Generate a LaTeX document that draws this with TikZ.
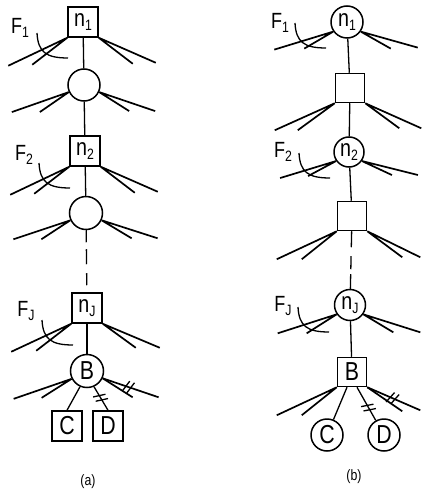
\documentclass[tikz,border=0pt]{standalone}
\usepackage{fontspec}
\setmainfont{Liberation Sans}[FakeStretch=0.82]
\usetikzlibrary{decorations.markings,calc}

% letter with a lowered subscript
\newcommand\nsub[2]{#1\raisebox{-3.5pt}{\fontsize{15}{15}\selectfont #2}}
\newcommand\bigletter[1]{{\fontsize{26}{26}\selectfont #1}}
% a pair of branch lines from one anchor: outer and inner offsets
\newcommand\fanpair[3]{\draw[fanline] (#1) -- ++#2 (#1) -- ++#3;}
% the curved stroke next to an F label
\newcommand\farc[2]{\draw[fanline, line width=1.3pt] (#1,#2) .. controls ({#1+1},{#2+19}) and ({#1+9},{#2+25}) .. ({#1+31},{#2+25});}

\begin{document}
\begin{tikzpicture}[x=1pt,y=-1pt,
  every node/.style={font=\fontsize{24}{24}\selectfont},
  sq/.style={draw, line width=1.5pt, minimum size=30pt, inner sep=0pt},
  cir/.style={draw, circle, line width=1.5pt, minimum size=32pt, inner sep=0pt},
  fanline/.style={line width=1.7pt},
  link/.style={line width=1.3pt},
  flab/.style={font=\fontsize{22}{22}\selectfont, inner sep=0pt},
  caption/.style={font=\fontsize{15}{15}\selectfont},
  dbltick/.style={postaction={decorate}, decoration={markings,
    mark=at position #1 with {\draw[line width=1.3pt] (-4pt,-6pt)--(0pt,6pt) (1pt,-6pt)--(5pt,6pt);}}}
]
\useasboundingbox (0,0) rectangle (421,492);

% ---------------- (a) ----------------
\node[sq] (n1a) at (83,22) {\nsub{n}{1}};
\node[cir] (c1a) at (84,85) {};
\node[sq] (n2a) at (85,151) {\nsub{n}{2}};
\node[cir, minimum size=33pt] (c2a) at (86,213) {};
\node[sq] (nJa) at (87,308) {\nsub{n}{J}};
\node[cir, minimum size=33pt] (Ba) at (87,371) {\bigletter{B}};
\node[sq] (Ca) at (67,426) {\bigletter{C}};
\node[sq] (Da) at (108,426) {\bigletter{D}};

\draw[link] (n1a) -- (c1a);
\draw[link] (c1a) -- (n2a);
\draw[link] (n2a) -- (c2a);
\draw[link, dash pattern=on 12pt off 7pt on 15pt off 9pt] (c2a) -- (nJa);
\draw[link] (nJa) -- (Ba);
\draw[link] (Ba.246) -- (Ca.north);
\draw[link, dbltick=0.45] (Ba.294) -- (Da.north);

\fanpair{n1a.south west}{(-59,28)}{(-35,27)}
\fanpair{n1a.south east}{(57,25)}{(34,26)}
\fanpair{c1a.205}{(-57,20)}{(-29,20)}
\fanpair{c1a.335}{(56,19)}{(30,19)}
\fanpair{n2a.south west}{(-59,28)}{(-35,27)}
\fanpair{n2a.south east}{(57,25)}{(34,26)}
\fanpair{c2a.205}{(-57,19)}{(-29,19)}
\fanpair{c2a.335}{(56,18)}{(30,18)}
\fanpair{nJa.south west}{(-60,28)}{(-35,27)}
\fanpair{nJa.south east}{(57,24)}{(33,24)}
\fanpair{Ba.207}{(-58,20)}{(-30,19)}
\draw[fanline] (Ba.335) -- ++(30,19);
\draw[fanline, dbltick=0.45] (Ba.335) -- ++(56,19);

\node[flab] (F1a) at (20,28) {\nsub{F}{1}};
\node[flab] (F2a) at (24,155) {\nsub{F}{2}};
\node[flab] (FJa) at (26,311) {\nsub{F}{J}};
\farc{37}{33}
\farc{39}{163}
\farc{42}{320}

\node[caption] (capa) at (88,482) {(a)};

% ---------------- (b) ----------------
\node[cir] (n1b) at (347,22) {\nsub{n}{1}};
\node[sq, minimum size=29pt] (s1b) at (350,88) {};
\node[cir, minimum size=30pt] (n2b) at (349,152) {\nsub{n}{2}};
\node[sq, minimum size=29pt] (s2b) at (352,216) {};
\node[cir, minimum size=31pt] (nJb) at (350,305) {\nsub{n}{J}};
\node[sq, minimum size=29pt] (Bb) at (352,372) {\bigletter{B}};
\node[cir] (Cb) at (327,435) {\bigletter{C}};
\node[cir] (Db) at (384,435) {\bigletter{D}};

\draw[link] (n1b) -- (s1b);
\draw[link] (s1b) -- (n2b);
\draw[link] (n2b) -- (s2b);
\draw[link, dash pattern=on 16pt off 9pt on 13pt off 5pt] (s2b) -- (nJb);
\draw[link] (nJb) -- (Bb);
\draw[link] ([xshift=-5pt]Bb.south) -- (Cb);
\draw[link, dbltick=0.6] ([xshift=5pt]Bb.south) -- (Db);

\fanpair{n1b.215}{(-59,18)}{(-29,17)}
\fanpair{n1b.325}{(57,16)}{(30,17)}
\fanpair{s1b.south west}{(-60,27)}{(-37,27)}
\fanpair{s1b.south east}{(56,25)}{(34,25)}
\fanpair{n2b.215}{(-56,17)}{(-28,15)}
\fanpair{n2b.325}{(56,14)}{(30,14)}
\fanpair{s2b.south west}{(-60,28)}{(-35,28)}
\fanpair{s2b.south east}{(53,26)}{(35,26)}
\fanpair{nJb.215}{(-59,19)}{(-30,19)}
\fanpair{nJb.325}{(57,18)}{(30,18)}
\fanpair{Bb.south west}{(-60,28)}{(-35,28)}
\draw[fanline] (Bb.south east) -- ++(35,24);
\draw[fanline, dbltick=0.47] (Bb.south east) -- ++(53,23);

\node[flab] (F1b) at (280,23) {\nsub{F}{1}};
\node[flab] (F2b) at (283,152) {\nsub{F}{2}};
\node[flab] (FJb) at (283,306) {\nsub{F}{J}};
\farc{295}{23}
\farc{299}{153}
\farc{298}{307}

\node[caption] (capb) at (354,477) {(b)};
\end{tikzpicture}
\end{document}
